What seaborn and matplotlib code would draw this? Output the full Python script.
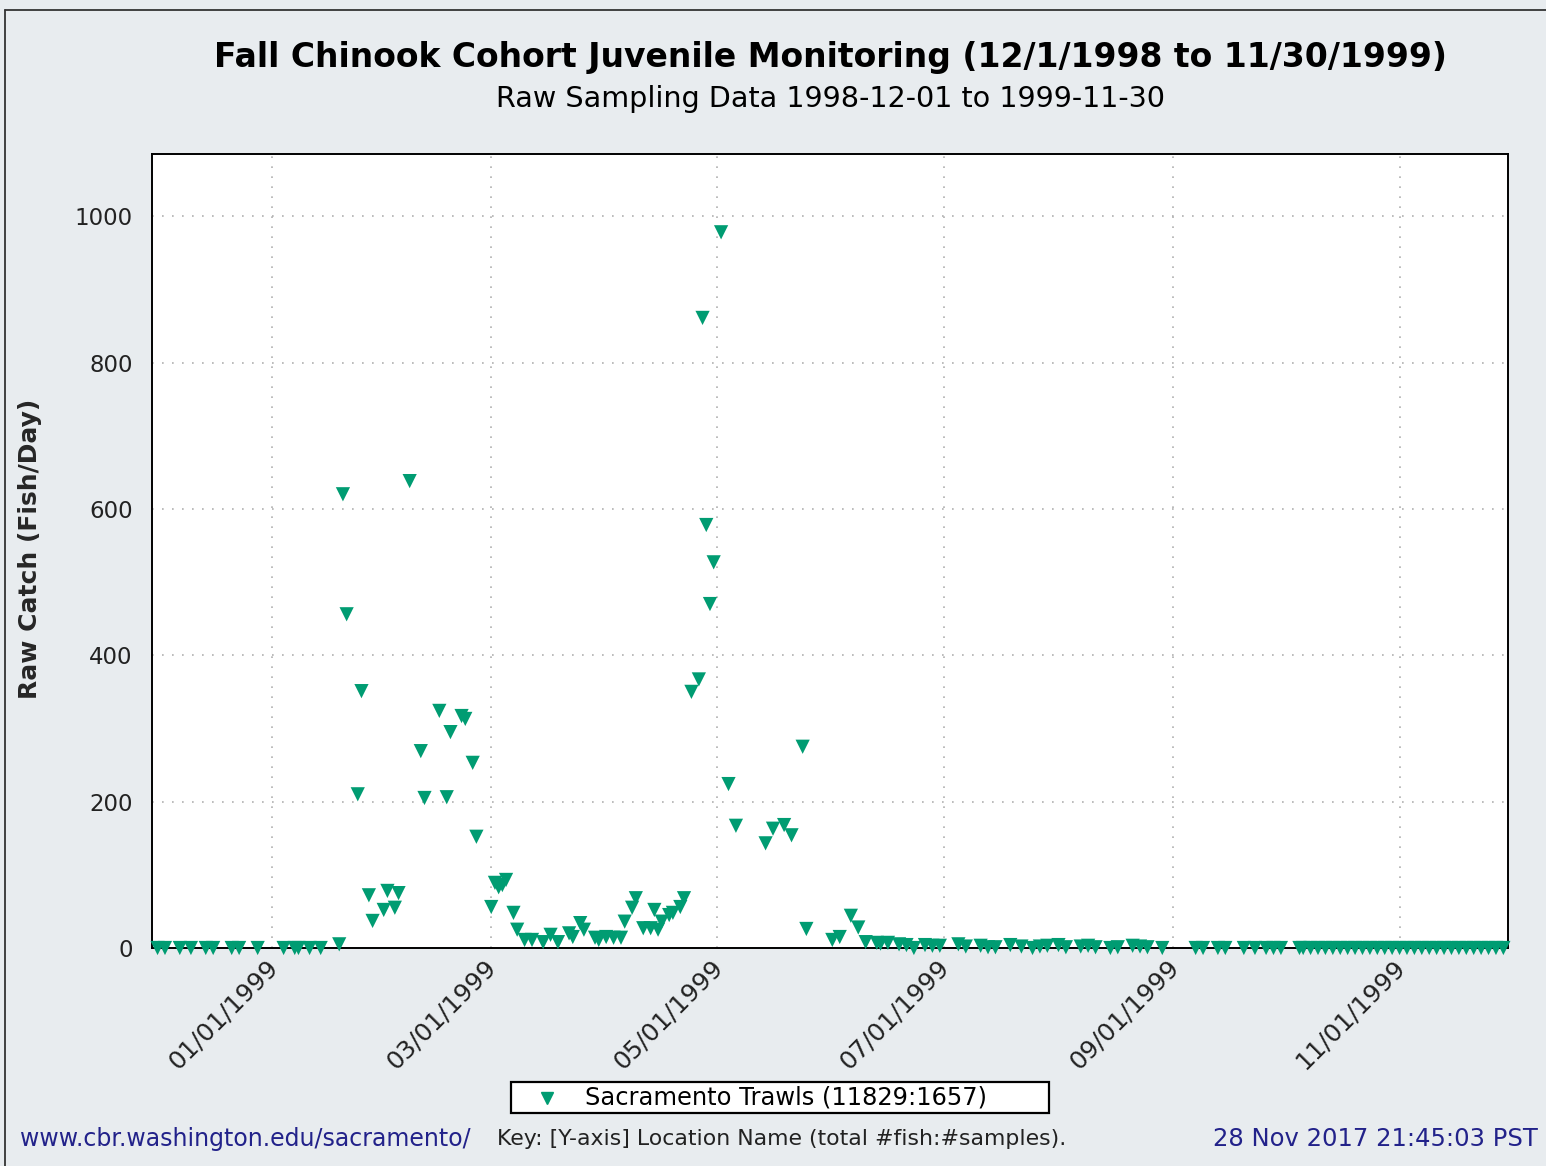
import matplotlib
matplotlib.use("Agg")
import matplotlib.pyplot as plt
import matplotlib.dates as mdates
import matplotlib.transforms as mtransforms
from matplotlib.lines import Line2D
from matplotlib.patches import Rectangle
import seaborn as sns
import pandas as pd

# ---------------- data ----------------
sample_dates = [
    "1998-12-01", "1998-12-03", "1998-12-07", "1998-12-10", "1998-12-14", "1998-12-16",
    "1998-12-21", "1998-12-23", "1998-12-28",
    "1999-01-04", "1999-01-07", "1999-01-08", "1999-01-11", "1999-01-14", "1999-01-19",
    "1999-01-20", "1999-01-21", "1999-01-24", "1999-01-25", "1999-01-27", "1999-01-28",
    "1999-01-31", "1999-02-01", "1999-02-03", "1999-02-04", "1999-02-07", "1999-02-10",
    "1999-02-11", "1999-02-15", "1999-02-17", "1999-02-18", "1999-02-21", "1999-02-22",
    "1999-02-24", "1999-02-25",
    "1999-03-01", "1999-03-02", "1999-03-03", "1999-03-04", "1999-03-05", "1999-03-07",
    "1999-03-08", "1999-03-10", "1999-03-12", "1999-03-15", "1999-03-17", "1999-03-19",
    "1999-03-22", "1999-03-23", "1999-03-25", "1999-03-26", "1999-03-29", "1999-03-30",
    "1999-04-01", "1999-04-03", "1999-04-05", "1999-04-06", "1999-04-08", "1999-04-09",
    "1999-04-11", "1999-04-13", "1999-04-14", "1999-04-15", "1999-04-16", "1999-04-18",
    "1999-04-19", "1999-04-21", "1999-04-22",
    "1999-04-24", "1999-04-26", "1999-04-27", "1999-04-28", "1999-04-29", "1999-04-30",
    "1999-05-02", "1999-05-04", "1999-05-06", "1999-05-14", "1999-05-16", "1999-05-19",
    "1999-05-21", "1999-05-24", "1999-05-25",
    "1999-06-01", "1999-06-03", "1999-06-06", "1999-06-08", "1999-06-10", "1999-06-13",
    "1999-06-14", "1999-06-16", "1999-06-19", "1999-06-21", "1999-06-23", "1999-06-26",
    "1999-06-28", "1999-06-30",
    "1999-07-05", "1999-07-07", "1999-07-11", "1999-07-13", "1999-07-15", "1999-07-19",
    "1999-07-22", "1999-07-25", "1999-07-27", "1999-07-29", "1999-08-01", "1999-08-03",
    "1999-08-07", "1999-08-09", "1999-08-11", "1999-08-15", "1999-08-17", "1999-08-21",
    "1999-08-23", "1999-08-25", "1999-08-29",
    "1999-09-07", "1999-09-09", "1999-09-13", "1999-09-15", "1999-09-20", "1999-09-23",
    "1999-09-26", "1999-09-28", "1999-09-30",
    "1999-10-05", "1999-10-06", "1999-10-08", "1999-10-10", "1999-10-12",
    "1999-10-14", "1999-10-16", "1999-10-18", "1999-10-20", "1999-10-22", "1999-10-24",
    "1999-10-26", "1999-10-28", "1999-10-30",
    "1999-11-01", "1999-11-03", "1999-11-05", "1999-11-07", "1999-11-09", "1999-11-11",
    "1999-11-13", "1999-11-15", "1999-11-17", "1999-11-19", "1999-11-21", "1999-11-23",
    "1999-11-25", "1999-11-27", "1999-11-29",
]

raw_catch = [
    0, 0, 0, 0, 0, 0,
    0, 0, 0,
    0, 0, 0, 0, 0, 5,
    620, 456, 210, 351, 72, 37,
    52, 78, 55, 75, 638, 269,
    205, 324, 206, 295, 317, 313,
    253, 152,
    56, 89, 83, 86, 93, 48,
    25, 11, 11, 8, 18, 8,
    20, 15, 34, 25, 14, 11,
    15, 14, 14, 36, 55, 68,
    27, 27, 52, 25, 36, 45,
    48, 56, 68,
    350, 367, 861, 578, 470, 527,
    978, 224, 167, 143, 163, 168,
    154, 275, 26,
    11, 15, 44, 28, 8, 7,
    6, 7, 5, 4, 0, 4,
    3, 3,
    5, 2, 3, 1, 1, 4,
    2, 0, 2, 3, 4, 1,
    2, 3, 1, 0, 1, 3,
    2, 1, 0,
    0, 0, 0, 0, 0, 0,
    0, 0, 0,
    0, 0, 0, 0, 0,
    0, 0, 0, 0, 0, 0,
    0, 0, 0,
    0, 0, 0, 0, 0, 0,
    0, 0, 0, 0, 0, 0,
    0, 0, 0,
]

series_name = "Sacramento Trawls (11829:1657)"
y_ticks = [0, 200, 400, 600, 800, 1000]

df = pd.DataFrame({"date": pd.to_datetime(sample_dates), "catch": raw_catch})

# ---------------- figure ----------------
W, H = 1546, 1166
bg = "#E8ECEF"
green = "#009C72"
navy = "#22228A"
sns.set_style("white")
plt.rcParams["font.family"] = ["DejaVu Sans"]

fig = plt.figure(figsize=(W / 100, H / 100), dpi=100, facecolor=bg)
ax = fig.add_axes([152 / W, 1 - 948 / H, (1508 - 152) / W, (948 - 154) / H])
ax.set_facecolor("white")

sns.scatterplot(data=df, x="date", y="catch", marker="v", s=105, color=green,
                edgecolor="none", linewidth=0, ax=ax, clip_on=False, zorder=3,
                legend=False)

ax.set_xlim(pd.Timestamp("1998-11-29 12:00"), pd.Timestamp("1999-11-30 06:00"))
ax.set_ylim(0, 1085)

ax.set_yticks(y_ticks)
ax.set_yticklabels([str(v) for v in y_ticks], fontsize=16.5, color="#222222")

ax.xaxis.set_major_locator(mdates.MonthLocator(bymonth=[1, 3, 5, 7, 9, 11], bymonthday=1))
ax.xaxis.set_major_formatter(mdates.DateFormatter("%m/%d/%Y"))
ax.xaxis.set_minor_locator(mdates.DayLocator(bymonthday=[1, 11, 21]))

ax.tick_params(axis="x", which="major", direction="in", length=12, width=2, color="black", pad=8)
ax.tick_params(axis="x", which="minor", direction="in", length=6, width=1.5, color="black")
ax.tick_params(axis="y", which="major", direction="in", length=0, pad=14)

offset = mtransforms.ScaledTranslation(-7 / 100, 4 / 100, fig.dpi_scale_trans)
for lab in ax.get_xticklabels():
    lab.set_rotation(45)
    lab.set_ha("right")
    lab.set_va("top")
    lab.set_rotation_mode("anchor")
    lab.set_fontsize(18)
    lab.set_color("#222222")
    lab.set_transform(lab.get_transform() + offset)

ax.grid(True, which="major", axis="both", linestyle=(0, (1, 5)), color="#B0B0B0", linewidth=1.2)
ax.set_axisbelow(True)
for sp in ax.spines.values():
    sp.set_color("black")
    sp.set_linewidth(1.4)

ax.set_xlabel("")
ax.set_ylabel("Raw Catch (Fish/Day)", fontsize=18, fontweight="bold")
ax.yaxis.label.set_va("center")
ax.yaxis.set_label_coords((30 - 152) / (1508 - 152), (948 - 549) / (948 - 154))

# titles
fig.text(830 / W, 1 - 57 / H, "Fall Chinook Cohort Juvenile Monitoring (12/1/1998 to 11/30/1999)",
         ha="center", va="center", fontsize=23.8, fontweight="bold", color="black")
fig.text(830 / W, 1 - 99 / H, "Raw Sampling Data 1998-12-01 to 1999-11-30",
         ha="center", va="center", fontsize=20.6, color="black")

# legend (key box)
fig.add_artist(Rectangle((511 / W, 1 - 1113 / H), (1049 - 511) / W, (1113 - 1082) / H,
                         transform=fig.transFigure, facecolor="white", edgecolor="black", lw=1.6))
fig.add_artist(Line2D([547 / W], [1 - 1098 / H], transform=fig.transFigure, marker="v",
                      linestyle="none", color=green, markersize=8))
fig.text(585 / W, 1 - 1098 / H, series_name, ha="left", va="center", fontsize=17.4, color="black")

# footer
fig.text(20 / W, 1 - 1139 / H, "www.cbr.washington.edu/sacramento/", ha="left", va="center",
         fontsize=17, color=navy)
fig.text(497 / W, 1 - 1139 / H, "Key: [Y-axis] Location Name (total #fish:#samples).", ha="left",
         va="center", fontsize=15.8, color="#222222")
fig.text(1538 / W, 1 - 1139 / H, "28 Nov 2017 21:45:03 PST", ha="right", va="center",
         fontsize=17.5, color=navy)

# figure border
fig.add_artist(Line2D([5 / W, 5 / W], [0, 1 - 10 / H], transform=fig.transFigure, color="#333333", lw=1.3))
fig.add_artist(Line2D([5 / W, 1], [1 - 10 / H, 1 - 10 / H], transform=fig.transFigure, color="#333333", lw=1.3))

fig.savefig("out.png", dpi=100, facecolor=bg)
